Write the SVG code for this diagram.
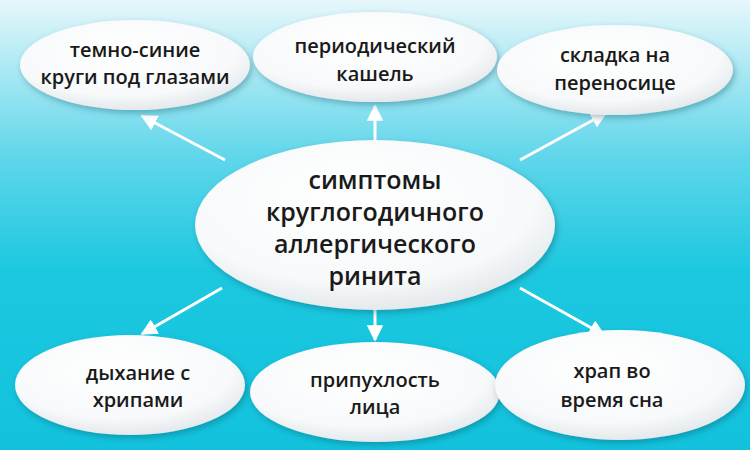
<svg xmlns="http://www.w3.org/2000/svg" width="750" height="450" viewBox="0 0 750 450">
<defs>
<linearGradient id="bg" x1="0" y1="0" x2="0" y2="1">
<stop offset="0" stop-color="#e6f7fb"/><stop offset="0.35" stop-color="#5fd6ea"/><stop offset="0.6" stop-color="#1cc8e0"/><stop offset="1" stop-color="#12c2dc"/>
</linearGradient>
<radialGradient id="el" cx="0.45" cy="0.35" r="0.7">
<stop offset="0" stop-color="#ffffff"/><stop offset="0.7" stop-color="#f7f9fa"/><stop offset="1" stop-color="#dfe4e7"/>
</radialGradient>
<filter id="sh" x="-20%" y="-20%" width="140%" height="150%"><feDropShadow dx="2" dy="3" stdDeviation="3" flood-color="#004a5a" flood-opacity="0.35"/></filter>
<marker id="ah" viewBox="0 0 10 10" refX="9" refY="5" markerWidth="5.5" markerHeight="5.5" orient="auto"><path d="M0,0 L10,5 L0,10 Z" fill="#ffffff"/></marker>
</defs>
<style>
.n{fill:url(#el);filter:url(#sh)}
text{font-family:"Open Sans","Liberation Sans",sans-serif;fill:#1a1a1a;text-anchor:middle;font-size:20px;font-weight:600}
.c{font-size:25px}
.a{stroke:#fff;stroke-width:3;fill:none;marker-end:url(#ah)}
</style>
<rect width="750" height="450" fill="url(#bg)"/>
<g id="connectors">
<line class="a" x1="225" y1="160" x2="142" y2="116"/>
<line class="a" x1="375" y1="145" x2="375" y2="106"/>
<line class="a" x1="520" y1="160" x2="606" y2="113"/>
<line class="a" x1="222" y1="288" x2="142" y2="334"/>
<line class="a" x1="375" y1="305" x2="375" y2="340"/>
<line class="a" x1="520" y1="288" x2="604" y2="335"/>
</g>
<g id="n1"><ellipse class="n" cx="135" cy="65" rx="115" ry="45"/><text x="135" y="57">темно-синие</text><text x="135" y="84">круги под глазами</text></g>
<g id="n2"><ellipse class="n" cx="375" cy="57" rx="122" ry="45"/><text x="375" y="53">периодический</text><text x="375" y="81">кашель</text></g>
<g id="n3"><ellipse class="n" cx="615" cy="70" rx="118" ry="45"/><text x="615" y="62">складка на</text><text x="615" y="90">переносице</text></g>
<g id="center"><ellipse class="n" cx="375" cy="225" rx="180" ry="85"/><text class="c" x="375" y="189">симптомы</text><text class="c" x="375" y="221">круглогодичного</text><text class="c" x="375" y="253">аллергического</text><text class="c" x="375" y="285">ринита</text></g>
<g id="n4"><ellipse class="n" cx="130" cy="385" rx="115" ry="50"/><text x="138" y="380">дыхание с</text><text x="138" y="407">хрипами</text></g>
<g id="n5"><ellipse class="n" cx="375" cy="392" rx="125" ry="50"/><text x="375" y="387">припухлость</text><text x="375" y="414">лица</text></g>
<g id="n6"><ellipse class="n" cx="620" cy="385" rx="125" ry="55"/><text x="612" y="378">храп во</text><text x="612" y="407">время сна</text></g>
</svg>
